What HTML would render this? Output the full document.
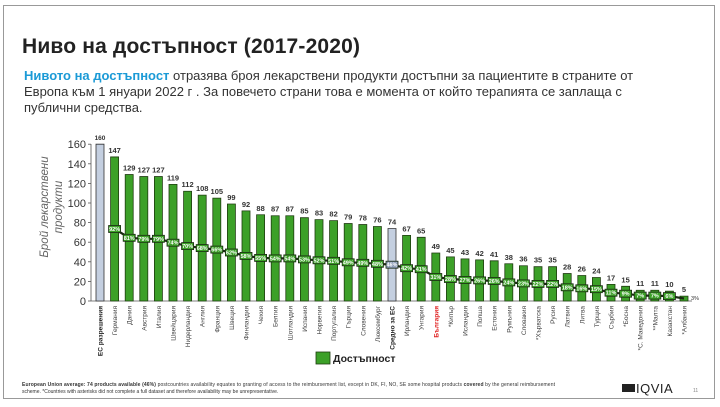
<!DOCTYPE html>
<html><head><meta charset="utf-8"><style>
body{margin:0;background:#fff;}
svg{display:block;font-family:"Liberation Sans","Noto Sans CJK SC",sans-serif;}
</style></head><body>
<svg width="720" height="407" viewBox="0 0 720 407" xmlns="http://www.w3.org/2000/svg">
<rect x="3.5" y="5.5" width="711" height="393" fill="#fff" stroke="#999" stroke-width="1"/>
<text x="22" y="53" font-size="21" font-weight="bold" fill="#222" textLength="338">Ниво на достъпност (2017-2020)</text>
<text x="24" y="80" font-size="13" fill="#333"><tspan fill="#1b9ad6" font-weight="bold">Нивото на достъпност</tspan>  отразява броя лекарствени продукти достъпни за пациентите в страните от</text>
<text x="24" y="96" font-size="13" fill="#333">Европа към 1 януари 2022 г . За повечето страни това е момента от който терапията се заплаща с</text>
<text x="24" y="112" font-size="13" fill="#333">публични средства.</text>

<g font-size="11.5" fill="#666" font-style="italic" text-anchor="middle">
<text transform="translate(48,207) rotate(-90)">Брой лекарствени</text>
<text transform="translate(62,207) rotate(-90)">продукти</text>
</g>
<g font-size="11" fill="#333" text-anchor="end">
<text x="86" y="305">0</text><text x="86" y="285.4">20</text><text x="86" y="265.8">40</text><text x="86" y="246.2">60</text><text x="86" y="226.6">80</text><text x="86" y="207">100</text><text x="86" y="187.4">120</text><text x="86" y="167.8">140</text><text x="86" y="148.2">160</text>
</g>
<g stroke="#555" stroke-width="0.8">
<line x1="91" y1="144" x2="91" y2="301"/>
<line x1="91" y1="301" x2="692" y2="301"/>
<line x1="88" y1="301" x2="91" y2="301"/><line x1="88" y1="281.4" x2="91" y2="281.4"/><line x1="88" y1="261.8" x2="91" y2="261.8"/><line x1="88" y1="242.2" x2="91" y2="242.2"/><line x1="88" y1="222.6" x2="91" y2="222.6"/><line x1="88" y1="203" x2="91" y2="203"/><line x1="88" y1="183.4" x2="91" y2="183.4"/><line x1="88" y1="163.8" x2="91" y2="163.8"/><line x1="88" y1="144.2" x2="91" y2="144.2"/>
</g>

<g transform="translate(0,301) scale(1,-0.98)" fill="#3ca028" stroke="#1f3d10" stroke-width="0.8">
<rect x="96" y="0" width="8" height="160" fill="#c4cfe0" stroke="#333" vector-effect="non-scaling-stroke"/>
<rect x="110.6" y="0" width="8" height="147" vector-effect="non-scaling-stroke"/>
<rect x="125.2" y="0" width="8" height="129" vector-effect="non-scaling-stroke"/>
<rect x="139.8" y="0" width="8" height="127" vector-effect="non-scaling-stroke"/>
<rect x="154.4" y="0" width="8" height="127" vector-effect="non-scaling-stroke"/>
<rect x="169" y="0" width="8" height="119" vector-effect="non-scaling-stroke"/>
<rect x="183.6" y="0" width="8" height="112" vector-effect="non-scaling-stroke"/>
<rect x="198.2" y="0" width="8" height="108" vector-effect="non-scaling-stroke"/>
<rect x="212.8" y="0" width="8" height="105" vector-effect="non-scaling-stroke"/>
<rect x="227.4" y="0" width="8" height="99" vector-effect="non-scaling-stroke"/>
<rect x="242" y="0" width="8" height="92" vector-effect="non-scaling-stroke"/>
<rect x="256.6" y="0" width="8" height="88" vector-effect="non-scaling-stroke"/>
<rect x="271.2" y="0" width="8" height="87" vector-effect="non-scaling-stroke"/>
<rect x="285.8" y="0" width="8" height="87" vector-effect="non-scaling-stroke"/>
<rect x="300.4" y="0" width="8" height="85" vector-effect="non-scaling-stroke"/>
<rect x="315" y="0" width="8" height="83" vector-effect="non-scaling-stroke"/>
<rect x="329.6" y="0" width="8" height="82" vector-effect="non-scaling-stroke"/>
<rect x="344.2" y="0" width="8" height="79" vector-effect="non-scaling-stroke"/>
<rect x="358.8" y="0" width="8" height="78" vector-effect="non-scaling-stroke"/>
<rect x="373.4" y="0" width="8" height="76" vector-effect="non-scaling-stroke"/>
<rect x="388" y="0" width="8" height="74" fill="#c4cfe0" stroke="#333" vector-effect="non-scaling-stroke"/>
<rect x="402.6" y="0" width="8" height="67" vector-effect="non-scaling-stroke"/>
<rect x="417.2" y="0" width="8" height="65" vector-effect="non-scaling-stroke"/>
<rect x="431.8" y="0" width="8" height="49" vector-effect="non-scaling-stroke"/>
<rect x="446.4" y="0" width="8" height="45" vector-effect="non-scaling-stroke"/>
<rect x="461" y="0" width="8" height="43" vector-effect="non-scaling-stroke"/>
<rect x="475.6" y="0" width="8" height="42" vector-effect="non-scaling-stroke"/>
<rect x="490.2" y="0" width="8" height="41" vector-effect="non-scaling-stroke"/>
<rect x="504.8" y="0" width="8" height="38" vector-effect="non-scaling-stroke"/>
<rect x="519.4" y="0" width="8" height="36" vector-effect="non-scaling-stroke"/>
<rect x="534" y="0" width="8" height="35" vector-effect="non-scaling-stroke"/>
<rect x="548.6" y="0" width="8" height="35" vector-effect="non-scaling-stroke"/>
<rect x="563.2" y="0" width="8" height="28" vector-effect="non-scaling-stroke"/>
<rect x="577.8" y="0" width="8" height="26" vector-effect="non-scaling-stroke"/>
<rect x="592.4" y="0" width="8" height="24" vector-effect="non-scaling-stroke"/>
<rect x="607" y="0" width="8" height="17" vector-effect="non-scaling-stroke"/>
<rect x="621.6" y="0" width="8" height="15" vector-effect="non-scaling-stroke"/>
<rect x="636.2" y="0" width="8" height="11" vector-effect="non-scaling-stroke"/>
<rect x="650.8" y="0" width="8" height="11" vector-effect="non-scaling-stroke"/>
<rect x="665.4" y="0" width="8" height="10" vector-effect="non-scaling-stroke"/>
<rect x="680" y="0" width="8" height="5" vector-effect="non-scaling-stroke"/>
</g>

<polyline fill="none" stroke="#1a2a12" stroke-width="2.2" points="114.6,229 129.2,237.8 143.8,238.8 158.4,238.8 173,242.7 187.6,246.1 202.2,248.1 216.8,249.6 231.4,252.5 246,255.9 260.6,257.9 275.2,258.4 289.8,258.4 304.4,259.4 319,260.3 333.6,260.8 348.2,262.3 362.8,262.8 377.4,263.8 392,264.7 406.6,268.2 421.2,269.2 435.8,277 450.4,279 465,279.9 479.6,280.4 494.2,280.9 508.8,282.4 523.4,283.4 538,283.9 552.6,283.9 567.2,287.3 581.8,288.3 596.4,289.2 611,292.7 625.6,293.7 640.2,295.6 654.8,295.6 669.4,296.1 684,298.5"/>

<g font-size="5.5" font-weight="bold" fill="#fff" text-anchor="middle">
<g fill="#3ca028" stroke="#1a2a12" stroke-width="0.8">
<rect x="108.6" y="225.5" width="12" height="7"/><rect x="123.2" y="234.3" width="12" height="7"/><rect x="137.8" y="235.3" width="12" height="7"/><rect x="152.4" y="235.3" width="12" height="7"/><rect x="167" y="239.2" width="12" height="7"/><rect x="181.6" y="242.6" width="12" height="7"/><rect x="196.2" y="244.6" width="12" height="7"/><rect x="210.8" y="246.1" width="12" height="7"/><rect x="225.4" y="249" width="12" height="7"/><rect x="240" y="252.4" width="12" height="7"/><rect x="254.6" y="254.4" width="12" height="7"/><rect x="269.2" y="254.9" width="12" height="7"/><rect x="283.8" y="254.9" width="12" height="7"/><rect x="298.4" y="255.9" width="12" height="7"/><rect x="313" y="256.8" width="12" height="7"/><rect x="327.6" y="257.3" width="12" height="7"/><rect x="342.2" y="258.8" width="12" height="7"/><rect x="356.8" y="259.3" width="12" height="7"/><rect x="371.4" y="260.3" width="12" height="7"/><rect x="386" y="261.2" width="12" height="7" fill="#8a9ab5"/><rect x="400.6" y="264.7" width="12" height="7"/><rect x="415.2" y="265.7" width="12" height="7"/><rect x="429.8" y="273.5" width="12" height="7"/><rect x="444.4" y="275.5" width="12" height="7"/><rect x="459" y="276.4" width="12" height="7"/><rect x="473.6" y="276.9" width="12" height="7"/><rect x="488.2" y="277.4" width="12" height="7"/><rect x="502.8" y="278.9" width="12" height="7"/><rect x="517.4" y="279.9" width="12" height="7"/><rect x="532" y="280.4" width="12" height="7"/><rect x="546.6" y="280.4" width="12" height="7"/><rect x="561.2" y="283.8" width="12" height="7"/><rect x="575.8" y="284.8" width="12" height="7"/><rect x="590.4" y="285.7" width="12" height="7"/><rect x="605" y="289.2" width="12" height="7"/><rect x="619.6" y="290.2" width="12" height="7"/><rect x="634.2" y="292.1" width="12" height="7"/><rect x="648.8" y="292.1" width="12" height="7"/><rect x="663.4" y="292.6" width="12" height="7"/>
</g>
<text x="114.6" y="231">92%</text><text x="129.2" y="239.8">81%</text><text x="143.8" y="240.8">79%</text><text x="158.4" y="240.8">79%</text><text x="173" y="244.7">74%</text><text x="187.6" y="248.1">70%</text><text x="202.2" y="250.1">68%</text><text x="216.8" y="251.6">66%</text><text x="231.4" y="254.5">62%</text><text x="246" y="257.9">58%</text><text x="260.6" y="259.9">55%</text><text x="275.2" y="260.4">54%</text><text x="289.8" y="260.4">54%</text><text x="304.4" y="261.4">53%</text><text x="319" y="262.3">52%</text><text x="333.6" y="262.8">51%</text><text x="348.2" y="264.3">49%</text><text x="362.8" y="264.8">49%</text><text x="377.4" y="265.8">48%</text><text x="392" y="266.7">46%</text><text x="406.6" y="270.2">42%</text><text x="421.2" y="271.2">41%</text><text x="435.8" y="279">31%</text><text x="450.4" y="281">28%</text><text x="465" y="281.9">27%</text><text x="479.6" y="282.4">26%</text><text x="494.2" y="282.9">26%</text><text x="508.8" y="284.4">24%</text><text x="523.4" y="285.4">23%</text><text x="538" y="285.9">22%</text><text x="552.6" y="285.9">22%</text><text x="567.2" y="289.3">18%</text><text x="581.8" y="290.3">16%</text><text x="596.4" y="291.2">15%</text><text x="611" y="294.7">11%</text><text x="625.6" y="295.7">9%</text><text x="640.2" y="297.6">7%</text><text x="654.8" y="297.6">7%</text><text x="669.4" y="298.1">6%</text>
<text x="695" y="300" fill="#333" font-weight="normal">3%</text>
</g>

<g font-size="7.5" font-weight="bold" fill="#333" text-anchor="middle">
<text x="100" y="140.2" font-size="6.5">160</text><text x="114.6" y="152.9">147</text><text x="129.2" y="170.6">129</text><text x="143.8" y="172.5">127</text><text x="158.4" y="172.5">127</text><text x="173" y="180.4">119</text><text x="187.6" y="187.2">112</text><text x="202.2" y="191.2">108</text><text x="216.8" y="194.1">105</text><text x="231.4" y="200">99</text><text x="246" y="206.8">92</text><text x="260.6" y="210.8">88</text><text x="275.2" y="211.7">87</text><text x="289.8" y="211.7">87</text><text x="304.4" y="213.7">85</text><text x="319" y="215.7">83</text><text x="333.6" y="216.6">82</text><text x="348.2" y="219.6">79</text><text x="362.8" y="220.6">78</text><text x="377.4" y="222.5">76</text><text x="392" y="224.5">74</text><text x="406.6" y="231.3">67</text><text x="421.2" y="233.3">65</text><text x="435.8" y="249">49</text><text x="450.4" y="252.9">45</text><text x="465" y="254.9">43</text><text x="479.6" y="255.8">42</text><text x="494.2" y="256.8">41</text><text x="508.8" y="259.8">38</text><text x="523.4" y="261.7">36</text><text x="538" y="262.7">35</text><text x="552.6" y="262.7">35</text><text x="567.2" y="269.6">28</text><text x="581.8" y="271.5">26</text><text x="596.4" y="273.5">24</text><text x="611" y="280.3">17</text><text x="625.6" y="282.3">15</text><text x="640.2" y="286.2">11</text><text x="654.8" y="286.2">11</text><text x="669.4" y="287.2">10</text><text x="684" y="292.1">5</text>
</g>

<g font-size="6.5" fill="#444" text-anchor="end">
<text transform="translate(102.5,306) rotate(-90)" font-weight="bold" fill="#222">ЕС разрешения</text>
<text transform="translate(117.1,306) rotate(-90)">Германия</text>
<text transform="translate(131.7,306) rotate(-90)">Дания</text>
<text transform="translate(146.3,306) rotate(-90)">Австрия</text>
<text transform="translate(160.9,306) rotate(-90)">Италия</text>
<text transform="translate(175.5,306) rotate(-90)">Швейцария</text>
<text transform="translate(190.1,306) rotate(-90)">Нидерландия</text>
<text transform="translate(204.7,306) rotate(-90)">Англия</text>
<text transform="translate(219.3,306) rotate(-90)">Франция</text>
<text transform="translate(233.9,306) rotate(-90)">Швеция</text>
<text transform="translate(248.5,306) rotate(-90)">Финландия</text>
<text transform="translate(263.1,306) rotate(-90)">Чехия</text>
<text transform="translate(277.7,306) rotate(-90)">Белгия</text>
<text transform="translate(292.3,306) rotate(-90)">Шотландия</text>
<text transform="translate(306.9,306) rotate(-90)">Испания</text>
<text transform="translate(321.5,306) rotate(-90)">Норвегия</text>
<text transform="translate(336.1,306) rotate(-90)">Португалия</text>
<text transform="translate(350.7,306) rotate(-90)">Гърция</text>
<text transform="translate(365.3,306) rotate(-90)">Словения</text>
<text transform="translate(379.9,306) rotate(-90)">Люксембург</text>
<text transform="translate(394.5,306) rotate(-90)" font-weight="bold" fill="#222">Средно за ЕС</text>
<text transform="translate(409.1,306) rotate(-90)">Ирландия</text>
<text transform="translate(423.7,306) rotate(-90)">Унгария</text>
<text transform="translate(438.3,306) rotate(-90)" font-weight="bold" fill="#e02020">България</text>
<text transform="translate(452.9,306) rotate(-90)">*Кипър</text>
<text transform="translate(467.5,306) rotate(-90)">Исландия</text>
<text transform="translate(482.1,306) rotate(-90)">Полша</text>
<text transform="translate(496.7,306) rotate(-90)">Естония</text>
<text transform="translate(511.3,306) rotate(-90)">Румъния</text>
<text transform="translate(525.9,306) rotate(-90)">Словакия</text>
<text transform="translate(540.5,306) rotate(-90)">*Хърватска</text>
<text transform="translate(555.1,306) rotate(-90)">Русия</text>
<text transform="translate(569.7,306) rotate(-90)">Латвия</text>
<text transform="translate(584.3,306) rotate(-90)">Литва</text>
<text transform="translate(598.9,306) rotate(-90)">Турция</text>
<text transform="translate(613.5,306) rotate(-90)">Сърбия</text>
<text transform="translate(628.1,306) rotate(-90)">*Босна</text>
<text transform="translate(642.7,306) rotate(-90)">*С. Македония</text>
<text transform="translate(657.3,306) rotate(-90)">**Малта</text>
<text transform="translate(671.9,306) rotate(-90)">Казахстан</text>
<text transform="translate(686.5,306) rotate(-90)">*Албания</text>
</g>

<rect x="316" y="352" width="14" height="12" fill="#3ca028" stroke="#1f3d10" stroke-width="0.8"/>
<text x="333" y="362" font-size="10.5" font-weight="bold" fill="#222">Достъпност</text>

<text x="22" y="386" font-size="5" fill="#333" textLength="533"><tspan font-weight="bold">European Union average: 74 products available (46%)</tspan> postcountries availability equates to granting of access to the reimbursement list, except in DK, FI, NO, SE some hospital products <tspan font-weight="bold">covered</tspan> by the general reimbursement</text>
<text x="22" y="393" font-size="5" fill="#333">scheme. *Countries with asterisks did not complete a full dataset and therefore availability may be unrepresentative.</text>
<rect x="622" y="384" width="13" height="8" fill="#222"/>
<text x="636" y="393" font-size="13" fill="#222" letter-spacing="0.5">IQVIA</text>
<text x="693" y="392" font-size="5" fill="#888">11</text>
</svg>
</body></html>
